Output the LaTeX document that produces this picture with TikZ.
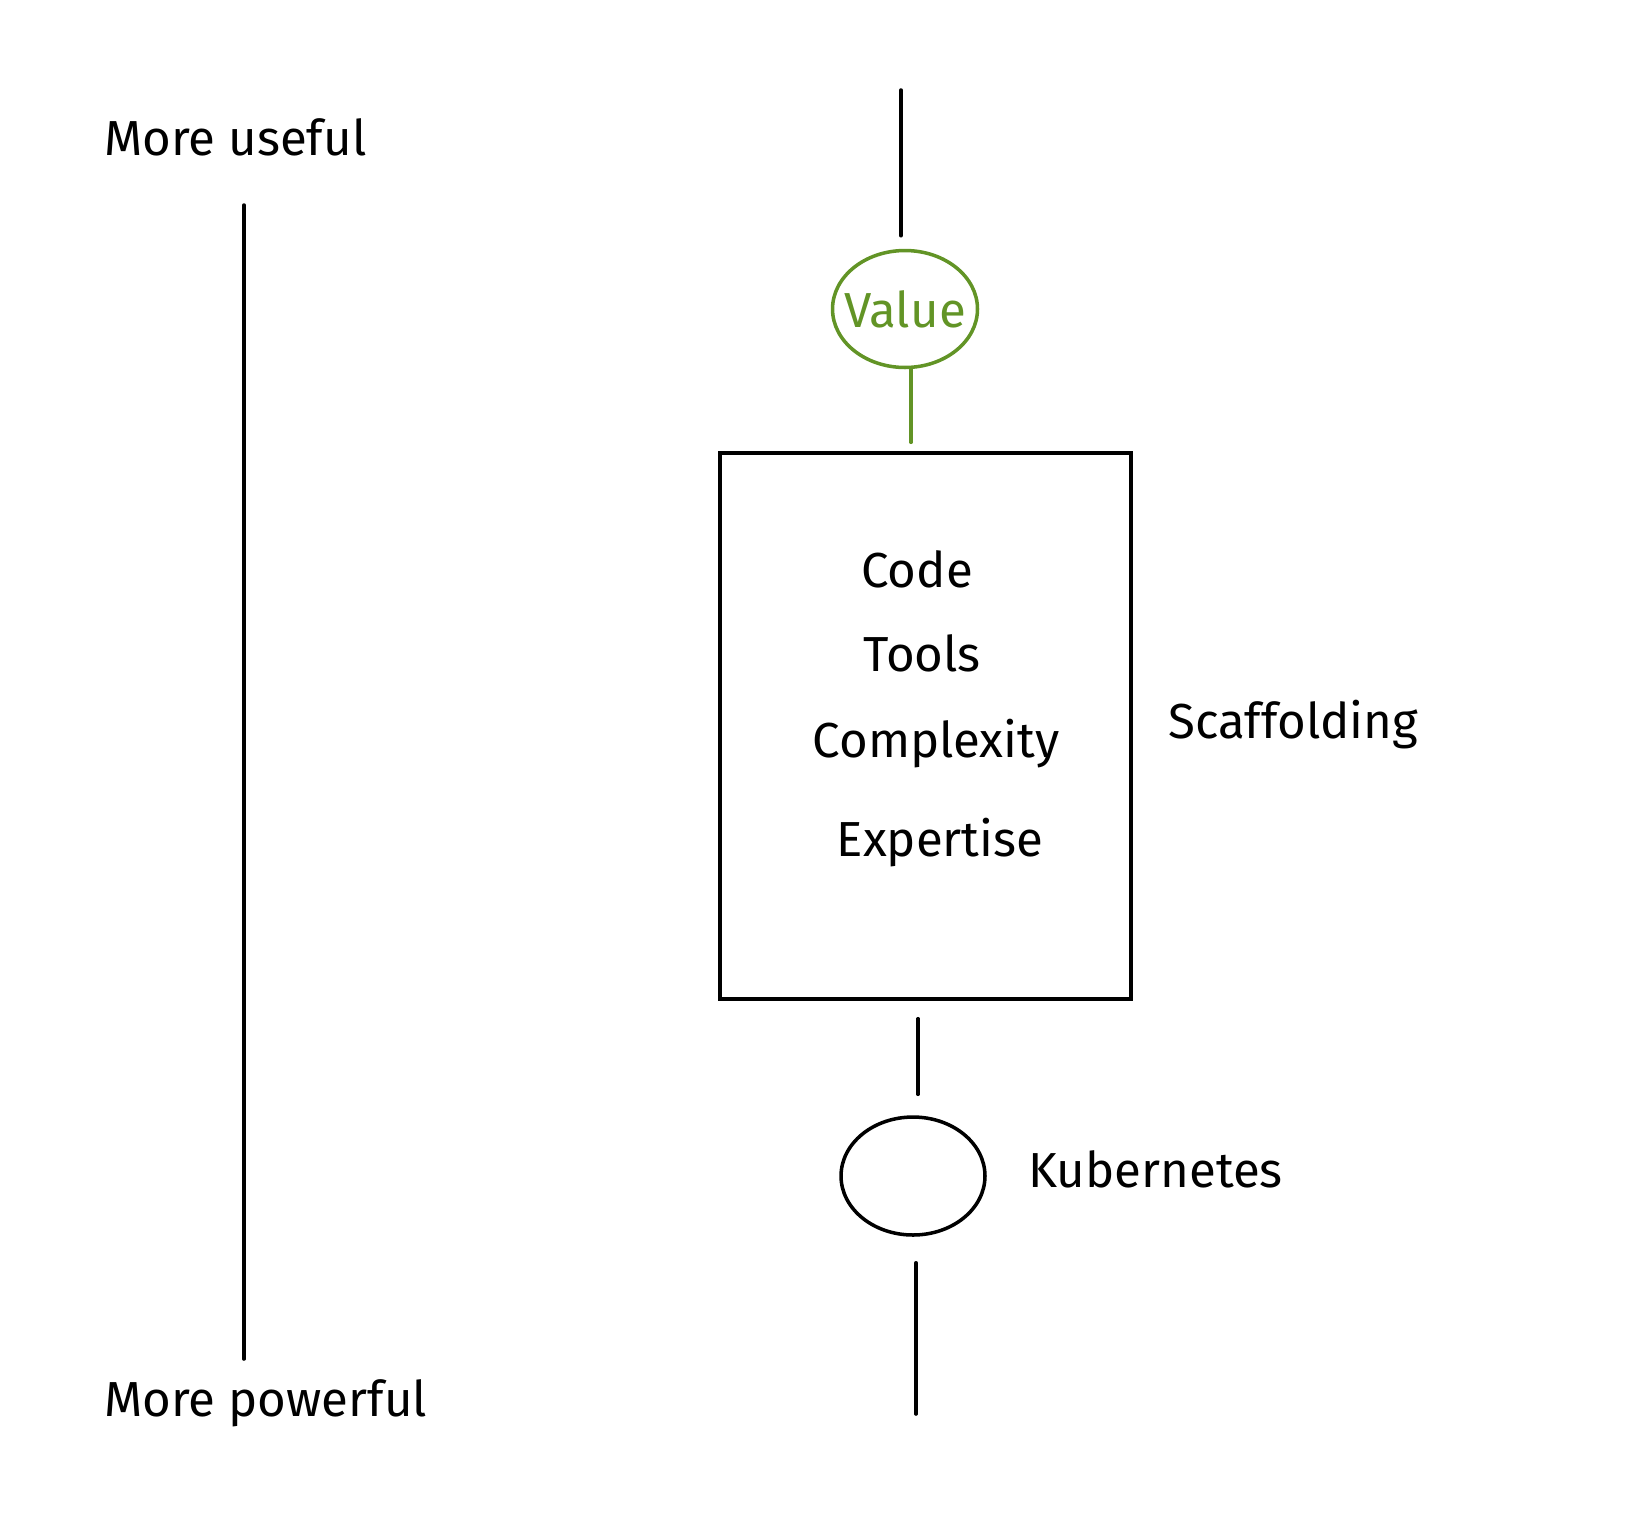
\documentclass[tikz,border=0pt]{standalone}
\usepackage{fontspec}
\setmainfont{Fira Sans}
\usepackage{tikz}
\usepackage{xcolor}
\usetikzlibrary{positioning,calc,shapes.geometric}
\definecolor{valuegreen}{RGB}{98,148,38}

\begin{document}
\begin{tikzpicture}[x=0.02cm, y=-0.02cm, line cap=round,
    every node/.style={font=\fontsize{28}{32}\selectfont},
    sketch/.style={line width=2pt, black},
    greenline/.style={line width=2pt, valuegreen},
    bubble/.style={ellipse, draw, line width=2pt, inner sep=0pt, minimum width=2.9cm, minimum height=2.34cm}]
\useasboundingbox (0,0) rectangle (1652,1512);

% axis on the left
\node[anchor=west] (useful) at (98,137) {More useful};
\node[anchor=west] (powerful) at (98,1403) {More powerful};
\coordinate (axtop) at (244,205);
\coordinate (axbot) at (244,1359);
\draw[sketch] (axtop) -- (axbot);

% value on top
\coordinate (stemtop) at (901,90);
\node[bubble, draw=valuegreen, label={[text=valuegreen]center:Value}] (value) at (905,309) {};
\draw[sketch, shorten >=0.26cm] (stemtop) -- (stemtop |- value.north);

% scaffolding box
\node[draw, sketch, minimum width=8.22cm, minimum height=10.92cm] (box) at (925.5,726) {};
\draw[greenline, shorten >=0.18cm] ([xshift=0.12cm]value.south) -- ([xshift=0.12cm]value.south |- box.north);
\node (code) at (917,569) {Code};
\node (tools) at (922,653) {Tools};
\node (complexity) at (936,744) {Complexity};
\node (expertise) at (940,843) {Expertise};
\node[anchor=west] (scaffold) at (1162,725) {Scaffolding};

% kubernetes at the bottom
\node[bubble, minimum width=2.88cm, minimum height=2.36cm] (kube) at (913,1176) {};
\node[anchor=west] (kubelabel) at (1022,1169) {Kubernetes};
\draw[sketch, shorten <=0.36cm, shorten >=0.42cm] (box.south -| 918,0) -- (kube.north -| 918,0);
\coordinate (stembot) at (916,1414);
\draw[sketch, shorten <=0.52cm] (kube.south -| stembot) -- (stembot);
\end{tikzpicture}
\end{document}
